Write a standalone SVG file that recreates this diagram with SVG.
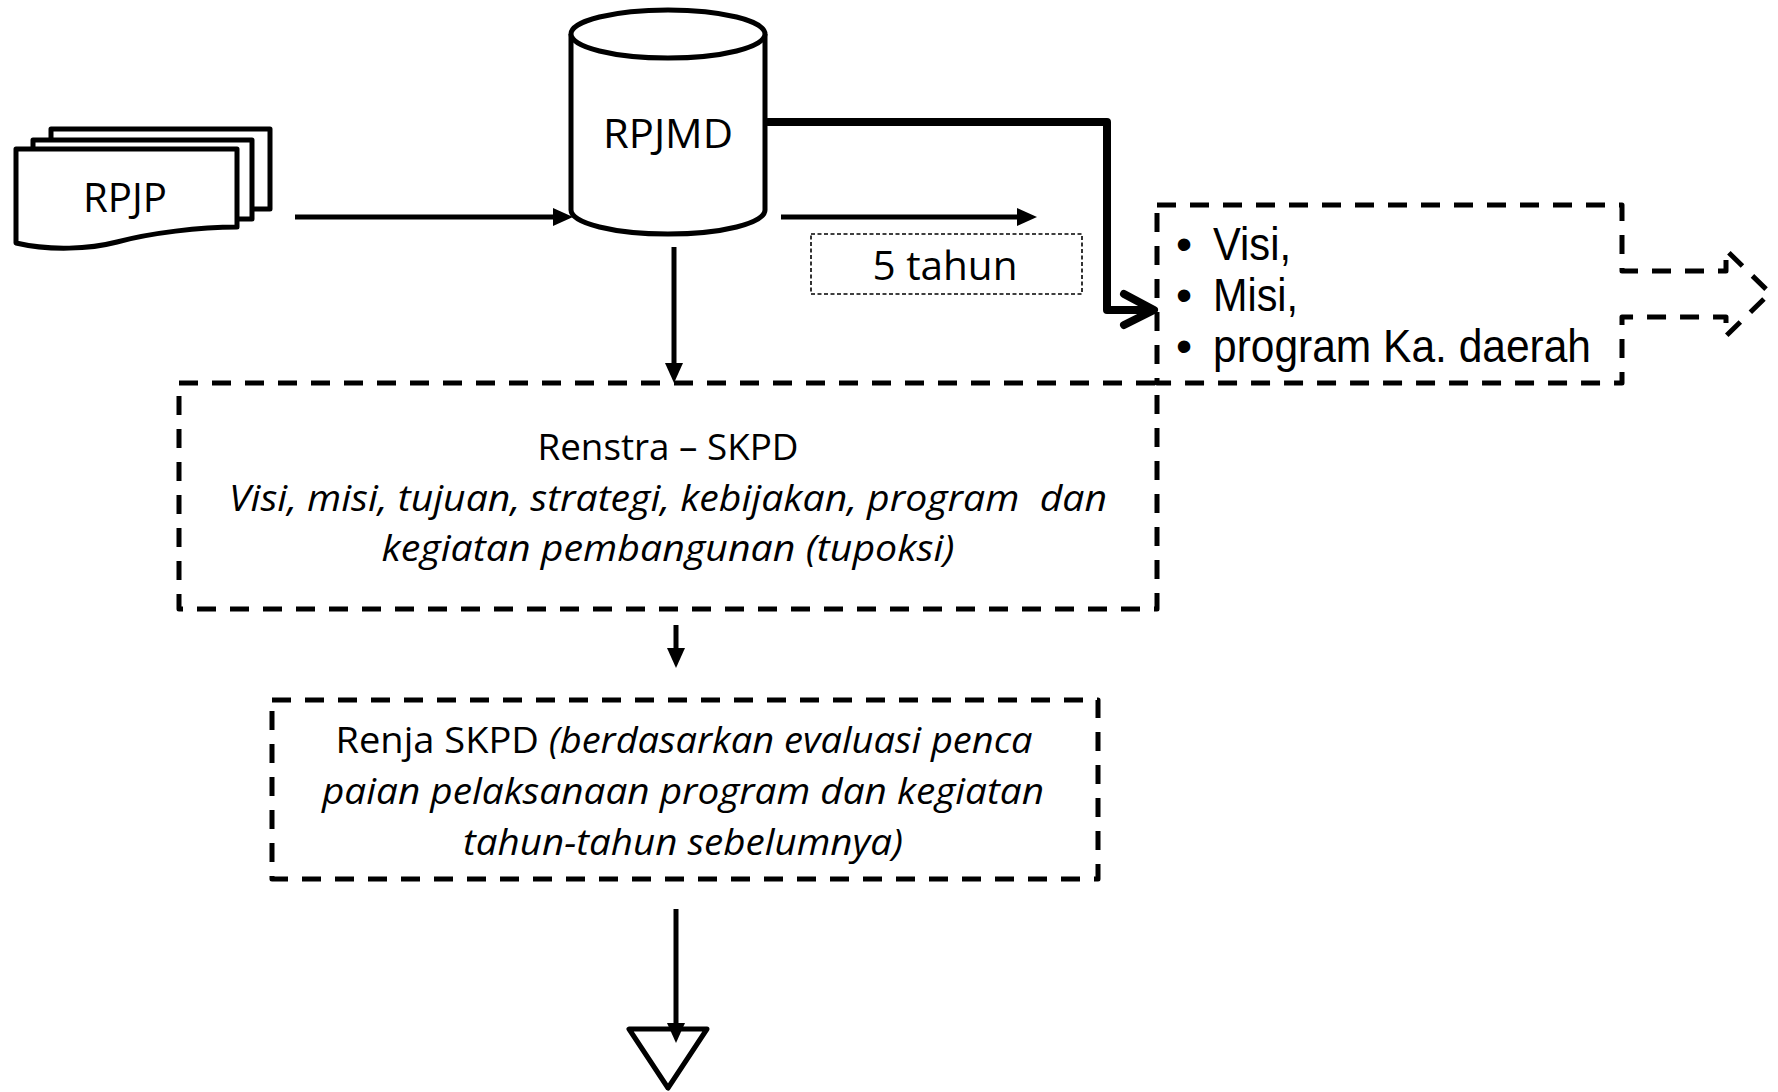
<svg xmlns="http://www.w3.org/2000/svg" width="1778" height="1092" viewBox="0 0 1778 1092">
  <style>
    .shape { fill: #ffffff; stroke: #000000; stroke-width: 5; stroke-linejoin: round; }
    .dash { fill: none; stroke: #000000; stroke-width: 5; stroke-dasharray: 19 14; stroke-linejoin: round; }
    .fine-dash { fill: #ffffff; stroke: #000000; stroke-width: 1.6; stroke-dasharray: 4 2.5; }
    .line { fill: none; stroke: #000000; stroke-width: 5; }
    .bold { fill: none; stroke: #000000; stroke-width: 8; stroke-linejoin: round; stroke-linecap: round; }
    .cal { font-family: "Open Sans", "Noto Sans", sans-serif; font-size: 40px; fill: #000000; text-anchor: middle; }
    .body { font-size: 37px; }
    .it { font-style: italic; }
    .ar { font-family: "Liberation Sans", Arial, sans-serif; font-size: 46px; fill: #000000; }
  </style>
  <defs>
    <marker id="head" markerUnits="userSpaceOnUse" markerWidth="20" markerHeight="18" viewBox="0 0 20 18" refX="9" refY="9" orient="auto">
      <path d="M0,0 L20,9 L0,18 Z" fill="#000000"/>
    </marker>
  </defs>

  <!-- RPJP: stacked documents -->
  <g id="rpjp">
    <rect class="shape" x="51" y="129" width="219" height="80"/>
    <rect class="shape" x="33" y="140" width="219" height="79"/>
    <path class="shape" d="M16,149 H237 V227 C200,227 150,233 117,242 C90,249 50,251 16,243 Z"/>
    <text class="cal" x="125" y="212" textLength="84" lengthAdjust="spacingAndGlyphs">RPJP</text>
  </g>

  <!-- RPJMD: database cylinder -->
  <g id="rpjmd">
    <path class="shape" d="M571,34 V210 A97,24 0 0 0 765,210 V34"/>
    <ellipse class="shape" cx="668" cy="34" rx="97" ry="24"/>
    <text class="cal" x="668" y="148" textLength="130" lengthAdjust="spacingAndGlyphs">RPJMD</text>
  </g>

  <!-- period label -->
  <g id="lima-tahun">
    <rect class="fine-dash" x="811" y="234" width="271" height="60"/>
    <text class="cal" x="945" y="280" textLength="145" lengthAdjust="spacingAndGlyphs">5 tahun</text>
  </g>

  <!-- head of region agenda, with outgoing block arrow -->
  <g id="visi-misi">
    <path class="dash" d="M1157,205 H1622 V271 H1726 V250 L1770,293 L1726,336 V317 H1622 V383 H1157 Z"/>
    <text class="ar" x="1176" y="260">•</text>
    <text class="ar" x="1213" y="260" textLength="78" lengthAdjust="spacingAndGlyphs">Visi,</text>
    <text class="ar" x="1176" y="311">•</text>
    <text class="ar" x="1213" y="311" textLength="85" lengthAdjust="spacingAndGlyphs">Misi,</text>
    <text class="ar" x="1176" y="362">•</text>
    <text class="ar" x="1213" y="362" textLength="378" lengthAdjust="spacingAndGlyphs">program Ka. daerah</text>
  </g>

  <!-- Renstra SKPD -->
  <g id="renstra">
    <rect class="dash" x="179" y="383" width="978" height="226"/>
    <text class="cal body" x="668" y="460" textLength="261" lengthAdjust="spacingAndGlyphs">Renstra – SKPD</text>
    <text class="cal body it" x="668" y="511" textLength="878" lengthAdjust="spacingAndGlyphs" style="white-space:pre">Visi, misi, tujuan, strategi, kebijakan, program  dan</text>
    <text class="cal body it" x="668" y="561" textLength="573" lengthAdjust="spacingAndGlyphs">kegiatan pembangunan (tupoksi)</text>
  </g>

  <!-- Renja SKPD -->
  <g id="renja">
    <rect class="dash" x="272" y="700" width="826" height="179"/>
    <text class="cal body" x="684" y="753" textLength="697" lengthAdjust="spacingAndGlyphs">Renja SKPD <tspan class="it">(berdasarkan evaluasi penca</tspan></text>
    <text class="cal body it" x="683" y="804" textLength="722" lengthAdjust="spacingAndGlyphs">paian pelaksanaan program dan kegiatan</text>
    <text class="cal body it" x="683" y="855" textLength="440" lengthAdjust="spacingAndGlyphs">tahun-tahun sebelumnya)</text>
  </g>

  <!-- off-page connector -->
  <g id="off-page">
    <path class="shape" d="M629,1029 H707 L668,1088 Z"/>
  </g>

  <!-- connectors -->
  <g id="connectors">
    <line class="line" x1="295" y1="217" x2="562" y2="217" marker-end="url(#head)"/>
    <line class="line" x1="781" y1="217" x2="1026" y2="217" marker-end="url(#head)" stroke-width="5.5"/>
    <path class="bold" d="M768,122 H1107 V310 H1152"/>
    <polyline class="bold" points="1124,294 1154,310 1124,325"/>
    <line class="line" x1="674" y1="247" x2="674" y2="372" marker-end="url(#head)"/>
    <line class="line" x1="676" y1="625" x2="676" y2="657" marker-end="url(#head)"/>
    <line class="line" x1="676" y1="909" x2="676" y2="1032" marker-end="url(#head)"/>
  </g>
</svg>
